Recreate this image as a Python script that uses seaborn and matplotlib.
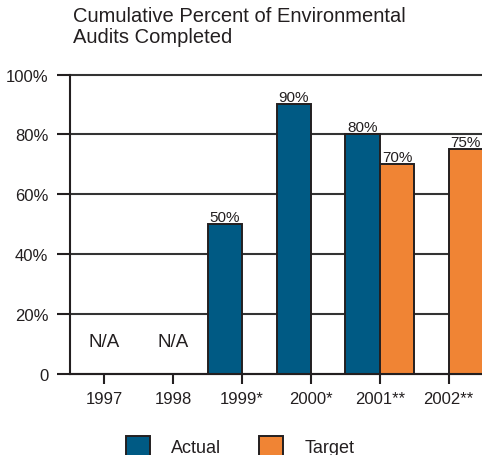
import numpy as np
import pandas as pd
import matplotlib
matplotlib.use("Agg")
import matplotlib.pyplot as plt
import seaborn as sns

# Data
years = ["1997", "1998", "1999*", "2000*", "2001**", "2002**"]
actual = [np.nan, np.nan, 50, 90, 80, np.nan]
target = [np.nan, np.nan, np.nan, np.nan, 70, 75]
na_years = ["1997", "1998"]
na_label_y = 11
yticks = [0, 20, 40, 60, 80, 100]
ytick_labels = ["0", "20%", "40%", "60%", "80%", "100%"]

BLUE = "#005a84"
ORANGE = "#f08434"
INK = "#231f20"
LINE = "#231f20"

df = pd.DataFrame({
    "year": years * 2,
    "series": ["Actual"] * len(years) + ["Target"] * len(years),
    "value": actual + target,
}).dropna()

sns.set_theme(style="white")
plt.rcParams["font.family"] = ["Liberation Sans", "DejaVu Sans"]
plt.rcParams["text.color"] = INK

fig = plt.figure(figsize=(4.82, 4.56), dpi=100)
ax = fig.add_axes([70 / 482, 81 / 456, 413 / 482, 299.5 / 456])

sns.barplot(
    data=df, x="year", y="value", hue="series", order=years,
    hue_order=["Actual", "Target"], palette=[BLUE, ORANGE],
    width=1.0, gap=0, edgecolor=LINE, linewidth=1.4,
    saturation=1, ax=ax, errorbar=None,
)

for cont in ax.containers:
    ax.bar_label(cont, fmt="%g%%", padding=0.5, fontsize=11, color=INK)

for yr in na_years:
    ax.text(years.index(yr), na_label_y, "N/A", ha="center", va="center",
            fontsize=13.5, color=INK)

ax.set_xlim(-0.5, 5.5)
ax.set_ylim(0, 100)
ax.set_yticks(yticks)
ax.set_yticklabels(ytick_labels)
ax.set_xlabel("")
ax.set_ylabel("")

ax.yaxis.grid(True, color="#333333", linewidth=1.5)
ax.set_axisbelow(True)
for gl in ax.yaxis.get_gridlines():
    gl.set_clip_on(False)

for side in ["top", "right"]:
    ax.spines[side].set_visible(False)
for side in ["left", "bottom"]:
    ax.spines[side].set_color(LINE)
    ax.spines[side].set_linewidth(1.5)

ax.tick_params(axis="y", direction="out", length=9.5, width=1.5, color=LINE,
               pad=6, labelsize=12, labelcolor=INK, left=True)
ax.tick_params(axis="x", direction="out", length=7.2, width=1.5, color=LINE,
               pad=5, labelsize=12, labelcolor=INK, bottom=True)

handles, labels = ax.get_legend_handles_labels()
ax.get_legend().remove()
fig.legend(handles, labels, loc="center", bbox_to_anchor=(0.498, 9 / 456),
           ncol=2, frameon=False, fontsize=13, handlelength=1.33,
           handleheight=1.33, handletextpad=1.17, columnspacing=2.1,
           borderpad=0)

fig.text(73 / 482, 1 - 7 / 456,
         "Cumulative Percent of Environmental\nAudits Completed",
         ha="left", va="top", fontsize=14.5, color=INK, linespacing=1.15)

fig.savefig("out.png", dpi=100)
